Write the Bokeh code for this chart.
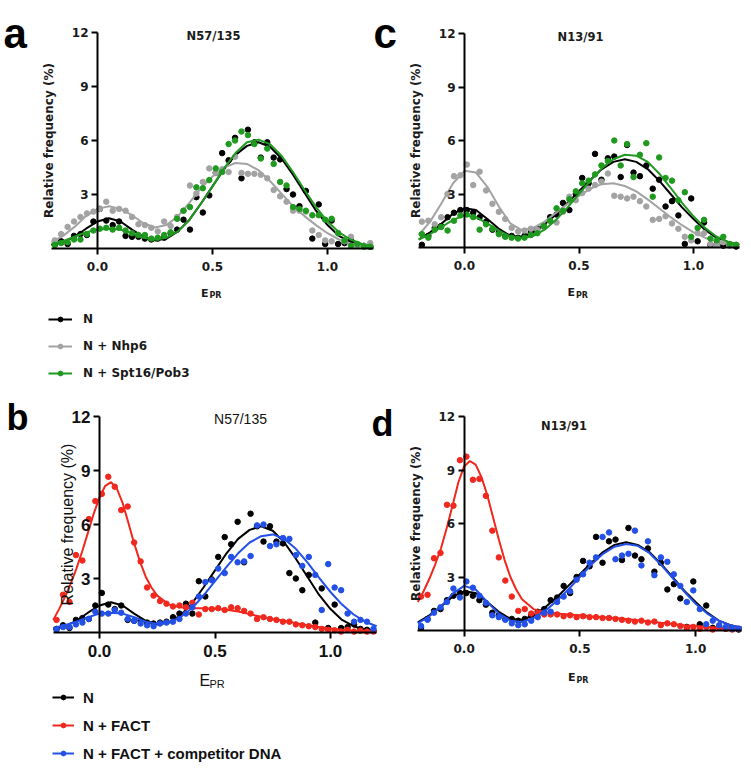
from bokeh.plotting import figure
from bokeh.models import (Range1d, FixedTicker, PrintfTickFormatter, Label,
                          Legend, LegendItem, LinearAxis)
from bokeh.embed import file_html
from bokeh.resources import INLINE

# ---------------- data ----------------
# histogram bin centres (E_PR)
epr_bins = [-0.186, -0.158, -0.13, -0.102, -0.074, -0.046, -0.018, 0.01, 0.038, 0.066,
            0.094, 0.122, 0.15, 0.178, 0.206, 0.234, 0.262, 0.29, 0.318, 0.346,
            0.374, 0.402, 0.43, 0.458, 0.486, 0.514, 0.542, 0.57, 0.598, 0.626,
            0.654, 0.682, 0.71, 0.738, 0.766, 0.794, 0.822, 0.85, 0.878, 0.906,
            0.934, 0.962, 0.99, 1.018, 1.046, 1.074, 1.102, 1.13, 1.158, 1.186]
# x positions at which the fitted curves were read
fit_x = [-0.2, -0.15, -0.1, -0.05, 0.0, 0.05, 0.1, 0.15, 0.2, 0.25, 0.3, 0.35, 0.4, 0.45,
         0.5, 0.55, 0.6, 0.65, 0.7, 0.75, 0.8, 0.85, 0.9, 0.95, 1.0, 1.05, 1.1, 1.15, 1.2]
# finer read-out positions for the sharp FACT peaks
fine_x = [-0.2, -0.175, -0.15, -0.125, -0.1, -0.075, -0.05, -0.025, 0.0, 0.025, 0.05, 0.075,
          0.1, 0.125, 0.15, 0.175, 0.2, 0.225, 0.25, 0.3, 0.35, 0.4, 0.45, 0.5, 0.55, 0.6,
          0.65, 0.7, 0.75, 0.8, 0.85, 0.9, 0.95, 1.0, 1.05, 1.1, 1.15, 1.2]

# N57/135
n57_N_pts = [0.2, 0.4, 0.25, 0.7, 0.8, 0.75, 1.5, 2.2, 1.55, 1.3, 1.5, 0.7, 0.65, 0.65, 0.55,
             0.5, 0.55, 0.6, 0.85, 1.05, 1.6, 1.05, 2.85, 2.0, 2.95, 4.2, 5.3, 4.9, 6.15, 3.9,
             6.6, 5.9, 5.05, 5.9, 5.05, 4.95, 3.3, 3.0, 2.35, 3.2, 0.55, 2.45, 0.25, 1.55, 0.25,
             0.3, 0.45, 0.2, 0.15, 0.1]
n57_N_fit = [0.2, 0.35, 0.65, 1.1, 1.5, 1.68, 1.5, 1.05, 0.65, 0.45, 0.55, 0.95, 1.6, 2.5, 3.45,
             4.4, 5.2, 5.7, 5.9, 5.65, 5.0, 4.1, 3.1, 2.1, 1.3, 0.7, 0.35, 0.15, 0.07]
n57_nhp6_pts = [0.45, 0.8, 1.2, 1.5, 1.75, 1.95, 2.05, 2.2, 2.6, 2.1, 2.2, 2.1, 1.75, 1.35, 1.3,
                1.15, 0.95, 1.5, 1.25, 1.75, 2.1, 3.5, 3.05, 3.7, 4.45, 4.2, 4.4, 4.25, 5.1, 4.2,
                4.15, 4.15, 4.1, 3.9, 3.25, 2.9, 2.6, 2.1, 2.1, 2.05, 1.0, 0.75, 0.45, 0.4, 0.85,
                0.4, 0.65, 0.15, 0.15, 0.3]
n57_nhp6_fit = [0.35, 0.7, 1.2, 1.8, 2.2, 2.35, 2.2, 1.85, 1.4, 1.17, 1.3, 1.8, 2.55, 3.35, 4.0,
                4.5, 4.75, 4.7, 4.35, 3.75, 3.05, 2.35, 1.8, 1.3, 0.85, 0.5, 0.28, 0.15, 0.08]
n57_spt_pts = [0.2, 0.3, 0.35, 0.5, 0.5, 0.8, 1.0, 1.1, 1.15, 1.05, 1.15, 1.0, 0.85, 0.75, 0.75,
               0.55, 0.6, 0.75, 0.9, 1.65, 2.1, 2.3, 3.4, 3.35, 3.8, 4.45, 4.25, 5.8, 6.0, 6.5,
               6.3, 5.8, 5.0, 5.55, 4.7, 3.7, 3.5, 2.3, 2.2, 2.1, 1.85, 1.85, 1.6, 1.65, 0.85,
               0.45, 0.15, 0.25, 0.1, 0.1]
n57_spt_fit = [0.25, 0.4, 0.65, 0.9, 1.05, 1.1, 1.05, 0.85, 0.6, 0.5, 0.6, 0.95, 1.6, 2.5, 3.45,
               4.45, 5.3, 5.9, 6.05, 5.8, 5.15, 4.25, 3.25, 2.3, 1.5, 0.9, 0.5, 0.25, 0.12]
n57_fact_pts = [0.7, 2.1, 1.7, 4.3, 4.0, 6.3, 7.3, 7.7, 8.65, 8.1, 6.8, 7.0, 5.0, 3.95, 2.5,
                2.05, 1.75, 1.6, 1.45, 1.5, 1.4, 1.65, 1.0, 1.3, 1.3, 1.35, 1.25, 1.4, 1.35, 1.2,
                1.05, 0.75, 0.85, 0.75, 0.7, 0.6, 0.6, 0.45, 0.4, 0.35, 0.3, 0.2, 0.15, 0.12, 0.05,
                0.15, 0.05, 0.1, 0.05, 0.05]
n57_fact_fit = [0.7, 1.3, 1.95, 2.7, 3.55, 4.5, 5.55, 6.6, 7.5, 8.15, 8.35, 8.0, 7.2, 6.1,
                4.95, 3.95, 3.1, 2.5, 2.05, 1.55, 1.4, 1.35, 1.35, 1.32, 1.27, 1.17, 1.02, 0.87,
                0.75, 0.65, 0.52, 0.4, 0.3, 0.22, 0.15, 0.1, 0.07, 0.05]
n57_comp_pts = [0.15, 0.3, 0.3, 0.45, 0.55, 0.75, 1.15, 1.05, 1.05, 1.25, 1.1, 0.75, 0.65, 0.5, 0.4,
                0.35, 0.5, 0.55, 0.6, 0.75, 1.05, 1.4, 2.0, 2.8, 2.9, 3.55, 3.3, 4.2, 3.9, 3.95,
                4.25, 5.95, 6.0, 4.8, 4.9, 5.25, 5.2, 4.3, 3.7, 4.2, 3.2, 1.25, 3.8, 2.5, 2.35,
                1.05, 0.6, 0.7, 0.6, 0.2]
n57_comp_fit = [0.25, 0.4, 0.6, 0.85, 1.05, 1.1, 1.05, 0.85, 0.6, 0.48, 0.55, 0.85, 1.35, 2.05, 2.85,
                3.65, 4.4, 5.0, 5.35, 5.45, 5.2, 4.65, 3.9, 3.05, 2.25, 1.55, 1.0, 0.6, 0.35]

# N13/91
n13_N_pts = [0.15, 0.65, 1.1, 1.2, 1.7, 1.95, 2.1, 2.1, 1.95, 1.7, 1.45, 1.0, 0.85, 0.65, 0.65,
             0.55, 0.65, 0.85, 1.05, 1.2, 1.7, 1.85, 2.5, 2.1, 3.0, 3.9, 3.6, 5.25, 3.8, 5.0,
             5.1, 3.95, 5.75, 4.2, 4.0, 4.6, 3.3, 3.8, 2.3, 2.6, 1.8, 0.2, 2.75, 0.35, 1.4,
             0.15, 0.2, 0.1, 0.15, 0.05]
n13_N_fit = [0.45, 0.85, 1.35, 1.9, 2.2, 2.1, 1.6, 1.05, 0.65, 0.6, 0.85, 1.3, 1.85, 2.5, 3.15,
             3.8, 4.4, 4.8, 4.95, 4.8, 4.4, 3.75, 3.0, 2.25, 1.6, 1.0, 0.55, 0.3, 0.15]
n13_nhp6_pts = [1.45, 1.5, 1.3, 1.7, 3.0, 4.0, 4.05, 4.65, 3.5, 4.25, 3.2, 2.45, 2.0, 1.6, 1.1,
                0.9, 0.95, 1.05, 1.0, 1.15, 1.5, 1.4, 2.0, 2.85, 2.65, 3.05, 3.3, 3.5, 3.7, 4.15,
                2.9, 2.85, 2.75, 2.85, 2.6, 2.3, 1.55, 1.6, 1.75, 1.35, 1.05, 0.6, 0.4, 0.8, 0.8,
                0.2, 0.15, 0.3, 0.1, 0.15]
n13_nhp6_fit = [0.7, 1.45, 2.5, 3.6, 4.3, 4.2, 3.4, 2.3, 1.35, 0.98, 1.1, 1.45, 1.95, 2.45, 2.9,
                3.3, 3.55, 3.6, 3.45, 3.15, 2.7, 2.2, 1.7, 1.25, 0.85, 0.55, 0.33, 0.2, 0.1]
n13_spt_pts = [0.75, 0.55, 1.0, 1.15, 0.95, 1.5, 1.8, 1.85, 1.7, 1.0, 1.3, 1.05, 0.75, 0.6, 0.55,
               0.5, 0.55, 0.7, 0.8, 1.2, 1.5, 2.2, 2.05, 2.7, 3.15, 3.6, 3.75, 4.1, 4.6, 4.85,
               6.0, 4.6, 5.8, 3.95, 5.2, 5.85, 2.85, 5.05, 3.9, 3.75, 2.65, 3.1, 0.6, 1.1, 1.55,
               0.5, 0.4, 0.6, 0.2, 0.15]
n13_spt_fit = [0.45, 0.75, 1.15, 1.55, 1.8, 1.7, 1.35, 0.95, 0.62, 0.52, 0.65, 1.0, 1.55, 2.25, 3.0,
               3.75, 4.45, 4.95, 5.2, 5.15, 4.8, 4.15, 3.35, 2.5, 1.75, 1.1, 0.62, 0.33, 0.16]
n13_fact_pts = [1.9, 2.0, 4.05, 4.35, 7.05, 7.0, 9.55, 9.75, 8.45, 8.5, 7.55, 5.6, 4.1, 2.8, 1.9,
                1.1, 1.2, 0.95, 0.95, 0.9, 0.9, 0.9, 0.8, 0.85, 0.75, 0.8, 0.75, 0.75, 0.7, 0.7,
                0.65, 0.6, 0.55, 0.5, 0.55, 0.45, 0.5, 0.3, 0.4, 0.35, 0.25, 0.15, 0.2, 0.1, 0.2,
                0.05, 0.15, 0.1, 0.05, 0.1]
n13_fact_fit = [1.6, 2.2, 2.9, 3.7, 4.6, 5.75, 7.0, 8.3, 9.2, 9.5, 9.3, 8.6, 7.6, 6.35, 5.1,
                3.95, 3.0, 2.3, 1.75, 1.2, 1.02, 0.95, 0.9, 0.86, 0.8, 0.75, 0.7, 0.65, 0.58,
                0.5, 0.43, 0.37, 0.3, 0.25, 0.2, 0.15, 0.12, 0.1]
n13_comp_pts = [0.25, 0.6, 1.0, 1.3, 1.6, 2.35, 1.85, 2.75, 2.4, 1.95, 1.55, 0.85, 0.75, 0.6, 0.4,
                0.3, 0.35, 0.55, 0.75, 1.0, 1.05, 1.6, 1.9, 2.2, 2.85, 3.15, 3.8, 4.1, 5.25, 5.5,
                4.0, 4.2, 4.3, 5.6, 3.65, 5.0, 3.1, 4.1, 3.85, 3.15, 2.5, 1.6, 2.25, 1.2, 0.35,
                0.55, 0.3, 0.2, 0.1, 0.1]
n13_comp_fit = [0.4, 0.8, 1.35, 2.05, 2.5, 2.3, 1.6, 0.95, 0.55, 0.48, 0.7, 1.1, 1.65, 2.3, 3.0,
                3.7, 4.3, 4.7, 4.85, 4.75, 4.35, 3.7, 2.95, 2.2, 1.5, 0.95, 0.55, 0.3, 0.15]

x_ticks = [0.0, 0.5, 1.0]
y_ticks = [3, 6, 9, 12]
labels_top = ["N", "N + Nhp6", "N + Spt16/Pob3"]
labels_bottom = ["N", "N + FACT", "N + FACT + competitor DNA"]

BLACK, GRAY, GREEN, RED, BLUE = "#000000", "#a3a3a3", "#1f9a1f", "#f0281e", "#2350e6"

W, H = 751, 768

# ---------------- styles ----------------
STYLE_A = dict(font="DejaVu Sans", tick_size="12px", tick_style="bold", title_size="11.5px",
               title_style="bold", ylab_size="12px", ylab_style="bold", ylab_standoff=13,
               e_size="11px", pr_size="8px", e_style="bold", color="#1a1a1a", x_standoff=7,
               leg_size="12px", leg_style="bold")
STYLE_B = dict(font="Liberation Sans", tick_size="17px", tick_style="bold", title_size="14px",
               title_style="normal", ylab_size="16px", ylab_style="normal", ylab_standoff=-7,
               e_size="16px", pr_size="11px", e_style="normal", color="#111111", x_standoff=6,
               leg_size="15px", leg_style="bold")

# panel geometry in page pixels: x0/y0 = pixel of data (0,0), kx/ky = pixels per unit
GEO = {
    "a": dict(x0=97.0, kx=230.0, y0=248.0, ky=18.0, title=(213, 35), letter=(3, 33, "42px"),
              e=(200.5, 293), pr=(209, 295),
              legend=dict(loc=(48, H - 383), spacing=7, gw=24, standoff=11)),
    "c": dict(x0=464.0, kx=229.0, y0=247.0, ky=214 / 12, title=(580, 36.5), letter=(373, 33, "42px"),
              e=(567, 292), pr=(575.5, 294.5)),
    "b": dict(x0=99.0, kx=231.0, y0=632.0, ky=18.0, title=(240, 418), letter=(6, 417, "36px"),
              e=(199, 680), pr=(209, 683),
              legend=dict(loc=(52, H - 763), spacing=8, gw=22, standoff=9)),
    "d": dict(x0=463.6, kx=231.5, y0=630.0, ky=214 / 12, title=(563.5, 425.5), letter=(371, 423, "36px"),
              e=(567.5, 677), pr=(576, 680)),
}

p = figure(width=W, height=H, x_range=Range1d(0, W), y_range=Range1d(H, 0),
           x_axis_type=None, y_axis_type=None, min_border=0,
           toolbar_location=None, output_backend="svg")
p.outline_line_color = None
p.grid.visible = False
p.background_fill_color = "white"
p.border_fill_color = "white"

for key, g in GEO.items():
    p.extra_x_ranges["x" + key] = Range1d(-g["x0"] / g["kx"], (W - g["x0"]) / g["kx"])
    p.extra_y_ranges["y" + key] = Range1d((g["y0"] - H) / g["ky"], g["y0"] / g["ky"])


def make_panel(key, series, st, title, letter):
    g = GEO[key]
    xr, yr = "x" + key, "y" + key
    rends = []
    for name, color, pts, cx, fit in series:
        sr = p.scatter(epr_bins, pts, size=5.5, color=color, x_range_name=xr, y_range_name=yr)
        lr = p.line(cx, fit, line_width=2, color=color, x_range_name=xr, y_range_name=yr)
        rends.append((name, lr, sr))

    xa = LinearAxis(x_range_name=xr, y_range_name=yr, fixed_location=0, bounds=(-0.2, 1.2),
                    ticker=FixedTicker(ticks=x_ticks), formatter=PrintfTickFormatter(format="%.1f"))
    ya = LinearAxis(x_range_name=xr, y_range_name=yr, fixed_location=0, bounds=(0, 12),
                    ticker=FixedTicker(ticks=y_ticks))
    for ax in (xa, ya):
        ax.axis_line_width = 2
        ax.axis_line_color = "black"
        ax.major_tick_line_width = 2
        ax.major_tick_out = 6
        ax.major_tick_in = 0
        ax.minor_tick_out = 0
        ax.minor_tick_in = 0
        ax.major_label_text_font = st["font"]
        ax.major_label_text_font_size = st["tick_size"]
        ax.major_label_text_font_style = st["tick_style"]
        ax.major_label_text_color = st["color"]
    xa.major_label_standoff = st["x_standoff"]
    ya.major_label_standoff = 3
    ya.axis_label = "Relative frequency (%)"
    ya.axis_label_text_font = st["font"]
    ya.axis_label_text_font_size = st["ylab_size"]
    ya.axis_label_text_font_style = st["ylab_style"]
    ya.axis_label_text_color = st["color"]
    ya.axis_label_standoff = st["ylab_standoff"]
    p.add_layout(xa, "below")
    p.add_layout(ya, "left")

    tx, ty = g["title"]
    p.add_layout(Label(x=tx, y=ty, text=title, text_align="center", text_baseline="middle",
                       text_font=st["font"], text_font_size=st["title_size"],
                       text_font_style=st["title_style"], text_color=st["color"]))
    lx, ly, lsize = g["letter"]
    p.add_layout(Label(x=lx, y=ly, text=letter, text_align="left", text_baseline="alphabetic",
                       text_font="Liberation Sans", text_font_size=lsize,
                       text_font_style="bold", text_color="black"))
    ex, ey = g["e"]
    p.add_layout(Label(x=ex, y=ey, text="E", text_align="left", text_baseline="alphabetic",
                       text_font=st["font"], text_font_size=st["e_size"],
                       text_font_style=st["e_style"], text_color=st["color"]))
    rx, ry = g["pr"]
    p.add_layout(Label(x=rx, y=ry, text="PR", text_align="left", text_baseline="alphabetic",
                       text_font=st["font"], text_font_size=st["pr_size"],
                       text_font_style=st["e_style"], text_color=st["color"]))

    if "legend" in g:
        lg = g["legend"]
        items = [LegendItem(label=name, renderers=[lr, sr]) for name, lr, sr in rends]
        leg = Legend(items=items, location=lg["loc"], orientation="vertical",
                     padding=0, margin=0, spacing=lg["spacing"], label_height=20,
                     glyph_height=12, glyph_width=lg["gw"], label_standoff=lg["standoff"],
                     background_fill_alpha=0, border_line_alpha=0,
                     label_text_font=st["font"], label_text_font_size=st["leg_size"],
                     label_text_font_style=st["leg_style"], label_text_color=st["color"])
        p.add_layout(leg)


make_panel("a", [(labels_top[0], BLACK, n57_N_pts, fit_x, n57_N_fit),
                 (labels_top[1], GRAY, n57_nhp6_pts, fit_x, n57_nhp6_fit),
                 (labels_top[2], GREEN, n57_spt_pts, fit_x, n57_spt_fit)], STYLE_A, "N57/135", "a")
make_panel("c", [(labels_top[0], BLACK, n13_N_pts, fit_x, n13_N_fit),
                 (labels_top[1], GRAY, n13_nhp6_pts, fit_x, n13_nhp6_fit),
                 (labels_top[2], GREEN, n13_spt_pts, fit_x, n13_spt_fit)], STYLE_A, "N13/91", "c")
make_panel("b", [(labels_bottom[0], BLACK, n57_N_pts, fit_x, n57_N_fit),
                 (labels_bottom[1], RED, n57_fact_pts, fine_x, n57_fact_fit),
                 (labels_bottom[2], BLUE, n57_comp_pts, fit_x, n57_comp_fit)], STYLE_B, "N57/135", "b")
make_panel("d", [(labels_bottom[0], BLACK, n13_N_pts, fit_x, n13_N_fit),
                 (labels_bottom[1], RED, n13_fact_pts, fine_x, n13_fact_fit),
                 (labels_bottom[2], BLUE, n13_comp_pts, fit_x, n13_comp_fit)], STYLE_A, "N13/91", "d")

open("out.html", "w").write(file_html(p, INLINE))
